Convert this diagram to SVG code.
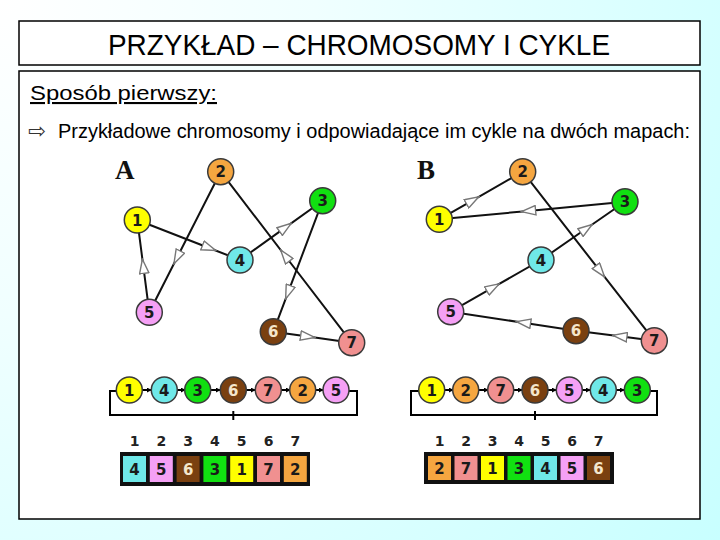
<svg xmlns="http://www.w3.org/2000/svg" width="720" height="540" viewBox="0 0 720 540">
<defs>
<radialGradient id="bg" cx="0" cy="0" r="900" gradientUnits="userSpaceOnUse">
<stop offset="0" stop-color="#ffffff"/>
<stop offset="0.35" stop-color="#f0ffff"/>
<stop offset="1" stop-color="#c8ffff"/>
</radialGradient>
<marker id="open" viewBox="0 0 16 11" refX="8" refY="5.5" markerWidth="16" markerHeight="11" markerUnits="userSpaceOnUse" orient="auto">
<path d="M0.8,0.8 L15,5.5 L0.8,10.2 Z" fill="#ffffff" stroke="#777777" stroke-width="1.4"/>
</marker>
<marker id="tiny" viewBox="0 0 6 6" refX="5" refY="3" markerWidth="5" markerHeight="5" markerUnits="userSpaceOnUse" orient="auto">
<path d="M0,0 L6,3 L0,6 Z" fill="#000"/>
</marker>
</defs>
<style>
.frame{fill:#ffffff;stroke:#000;stroke-width:1.5}
.edge{fill:none;stroke:#111;stroke-width:2;marker-mid:url(#open)}
.node circle{stroke:#3a3a3a;stroke-width:1.5}
.lbl{font-family:"DejaVu Sans",sans-serif;font-weight:bold;font-size:15px;fill:#1a1a1a;text-anchor:middle}
.lbl.w{fill:#f4e6cc}
.big{font-family:"Liberation Serif",serif;font-weight:bold;font-size:27px;fill:#111}
.num{font-family:"DejaVu Sans",sans-serif;font-weight:bold;font-size:14px;fill:#222;text-anchor:middle}
.c1{fill:#ffff00}.c2{fill:#f5a640}.c3{fill:#11e011}.c4{fill:#6fe8e8}.c5{fill:#f5a0f5}.c6{fill:#7a4010}.c7{fill:#f09090}
.link{stroke:#000;stroke-width:2;fill:none;marker-end:url(#tiny)}
.brk{stroke:#000;stroke-width:2;fill:none}
</style>
<rect x="0" y="0" width="720" height="540" fill="url(#bg)"/>
<rect class="frame" x="19" y="21" width="681" height="44"/>
<rect class="frame" x="19" y="71" width="681" height="448"/>
<text x="359" y="55" font-family="Liberation Sans, Arial, sans-serif" font-size="29" text-anchor="middle" textLength="502" lengthAdjust="spacingAndGlyphs" fill="#000">PRZYKŁAD – CHROMOSOMY I CYKLE</text>
<text x="30" y="100" font-family="Liberation Sans, Arial, sans-serif" font-size="21" textLength="187" lengthAdjust="spacingAndGlyphs" text-decoration="underline" fill="#000">Sposób pierwszy:</text>
<text x="28" y="138" font-family="DejaVu Sans, sans-serif" font-size="21" fill="#333">⇨</text>
<text x="58" y="138" font-family="Liberation Sans, Arial, sans-serif" font-size="20" textLength="632" lengthAdjust="spacingAndGlyphs" fill="#000">Przykładowe chromosomy i odpowiadające im cykle na dwóch mapach:</text>

<g id="mapA-connectors">
<path class="edge" d="M137.3,220 L209.2,248 L240,260"/>
<path class="edge" d="M240,260 L285.5,227.4 L322.7,200.7"/>
<path class="edge" d="M322.7,200.7 L288.1,292.4 L273.3,331.7"/>
<path class="edge" d="M273.3,331.7 L307.8,336.5 L351.7,342.7"/>
<path class="edge" d="M351.7,342.7 L284.9,255.5 L220.7,171.7"/>
<path class="edge" d="M220.7,171.7 L177.1,257.5 L149.3,312.3"/>
<path class="edge" d="M149.3,312.3 L143.3,266.2 L137.3,220"/>
</g>
<text class="big" x="115" y="179">A</text>
<g id="A1" class="node"><circle class="c1" cx="137.3" cy="220" r="13"/><text class="lbl" x="137.3" y="225.5">1</text></g>
<g id="A2" class="node"><circle class="c2" cx="220.7" cy="171.7" r="13"/><text class="lbl" x="220.7" y="177.2">2</text></g>
<g id="A3" class="node"><circle class="c3" cx="322.7" cy="200.7" r="13"/><text class="lbl" x="322.7" y="206.2">3</text></g>
<g id="A4" class="node"><circle class="c4" cx="240" cy="260" r="13"/><text class="lbl" x="240" y="265.5">4</text></g>
<g id="A5" class="node"><circle class="c5" cx="149.3" cy="312.3" r="13"/><text class="lbl" x="149.3" y="317.8">5</text></g>
<g id="A6" class="node"><circle class="c6" cx="273.3" cy="331.7" r="13"/><text class="lbl w" x="273.3" y="337.2">6</text></g>
<g id="A7" class="node"><circle class="c7" cx="351.7" cy="342.7" r="13"/><text class="lbl" x="351.7" y="348.2">7</text></g>

<g id="mapB-connectors">
<path class="edge" d="M439.3,219.3 L472.7,200.3 L522.7,171.7"/>
<path class="edge" d="M522.7,171.7 L600.3,271.4 L654.3,340.7"/>
<path class="edge" d="M654.3,340.7 L619.8,336.3 L576,330.7"/>
<path class="edge" d="M576,330.7 L523.4,322.7 L450.7,311.7"/>
<path class="edge" d="M450.7,311.7 L493.1,287.4 L541,260"/>
<path class="edge" d="M541,260 L586.4,228.5 L625,201.7"/>
<path class="edge" d="M625,201.7 L528.4,210.9 L439.3,219.3"/>
</g>
<text class="big" x="417" y="179">B</text>
<g id="B1" class="node"><circle class="c1" cx="439.3" cy="219.3" r="13"/><text class="lbl" x="439.3" y="224.8">1</text></g>
<g id="B2" class="node"><circle class="c2" cx="522.7" cy="171.7" r="13"/><text class="lbl" x="522.7" y="177.2">2</text></g>
<g id="B3" class="node"><circle class="c3" cx="625" cy="201.7" r="13"/><text class="lbl" x="625" y="207.2">3</text></g>
<g id="B4" class="node"><circle class="c4" cx="541" cy="260" r="13"/><text class="lbl" x="541" y="265.5">4</text></g>
<g id="B5" class="node"><circle class="c5" cx="450.7" cy="311.7" r="13"/><text class="lbl" x="450.7" y="317.2">5</text></g>
<g id="B6" class="node"><circle class="c6" cx="576" cy="330.7" r="13"/><text class="lbl w" x="576" y="336.2">6</text></g>
<g id="B7" class="node"><circle class="c7" cx="654.3" cy="340.7" r="13"/><text class="lbl" x="654.3" y="346.2">7</text></g>

<g id="chromA-connectors">
<path class="brk" d="M116,391 H110 V415 H357 V391 H349"/>
<path class="brk" d="M233.3,411 V420"/>
<path class="link" d="M142,390 H151"/>
<path class="link" d="M177,390 H185"/>
<path class="link" d="M210,390 H220"/>
<path class="link" d="M246,390 H255"/>
<path class="link" d="M281,390 H290"/>
<path class="link" d="M315,390 H323"/>
</g>
<g id="chromA">
<g class="node"><circle class="c1" cx="129.3" cy="390" r="13"/><text class="lbl" x="129.3" y="395.5">1</text></g>
<g class="node"><circle class="c4" cx="164.3" cy="390" r="13"/><text class="lbl" x="164.3" y="395.5">4</text></g>
<g class="node"><circle class="c3" cx="197.7" cy="390" r="13"/><text class="lbl" x="197.7" y="395.5">3</text></g>
<g class="node"><circle class="c6" cx="233.3" cy="390" r="13"/><text class="lbl w" x="233.3" y="395.5">6</text></g>
<g class="node"><circle class="c7" cx="268.3" cy="390" r="13"/><text class="lbl" x="268.3" y="395.5">7</text></g>
<g class="node"><circle class="c2" cx="302.7" cy="390" r="13"/><text class="lbl" x="302.7" y="395.5">2</text></g>
<g class="node"><circle class="c5" cx="336" cy="390" r="13"/><text class="lbl" x="336" y="395.5">5</text></g>
</g>
<g id="tableA">
<text class="num" x="134.5" y="446">1</text><text class="num" x="161.3" y="446">2</text><text class="num" x="188.1" y="446">3</text><text class="num" x="214.9" y="446">4</text><text class="num" x="241.7" y="446">5</text><text class="num" x="268.5" y="446">6</text><text class="num" x="295.3" y="446">7</text>
<rect x="120" y="452" width="190" height="34" fill="#111"/>
<rect class="c4" x="123" y="456" width="23" height="26"/><text class="lbl" x="134.5" y="474.5">4</text>
<rect class="c5" x="149.8" y="456" width="23" height="26"/><text class="lbl" x="161.3" y="474.5">5</text>
<rect class="c6" x="176.6" y="456" width="23" height="26"/><text class="lbl w" x="188.1" y="474.5">6</text>
<rect class="c3" x="203.4" y="456" width="23" height="26"/><text class="lbl" x="214.9" y="474.5">3</text>
<rect class="c1" x="230.2" y="456" width="23" height="26"/><text class="lbl" x="241.7" y="474.5">1</text>
<rect class="c7" x="257" y="456" width="23" height="26"/><text class="lbl" x="268.5" y="474.5">7</text>
<rect class="c2" x="283.8" y="456" width="23" height="26"/><text class="lbl" x="295.3" y="474.5">2</text>
</g>

<g id="chromB-connectors">
<path class="brk" d="M419,391 H411 V415 H657 V391 H650"/>
<path class="brk" d="M535,411 V420"/>
<path class="link" d="M444,390 H453"/>
<path class="link" d="M478,390 H488"/>
<path class="link" d="M513,390 H522"/>
<path class="link" d="M547,390 H556"/>
<path class="link" d="M582,390 H590"/>
<path class="link" d="M616,390 H624"/>
</g>
<g id="chromB">
<g class="node"><circle class="c1" cx="431.7" cy="390" r="13"/><text class="lbl" x="431.7" y="395.5">1</text></g>
<g class="node"><circle class="c2" cx="465.7" cy="390" r="13"/><text class="lbl" x="465.7" y="395.5">2</text></g>
<g class="node"><circle class="c7" cx="500.7" cy="390" r="13"/><text class="lbl" x="500.7" y="395.5">7</text></g>
<g class="node"><circle class="c6" cx="535" cy="390" r="13"/><text class="lbl w" x="535" y="395.5">6</text></g>
<g class="node"><circle class="c5" cx="569.3" cy="390" r="13"/><text class="lbl" x="569.3" y="395.5">5</text></g>
<g class="node"><circle class="c4" cx="603.3" cy="390" r="13"/><text class="lbl" x="603.3" y="395.5">4</text></g>
<g class="node"><circle class="c3" cx="637.3" cy="390" r="13"/><text class="lbl" x="637.3" y="395.5">3</text></g>
</g>
<g id="tableB">
<text class="num" x="439.5" y="446">1</text><text class="num" x="466" y="446">2</text><text class="num" x="492.5" y="446">3</text><text class="num" x="519" y="446">4</text><text class="num" x="545.5" y="446">5</text><text class="num" x="572" y="446">6</text><text class="num" x="598.5" y="446">7</text>
<rect x="424" y="452" width="190" height="32" fill="#111"/>
<rect class="c2" x="428" y="456" width="23" height="24"/><text class="lbl" x="439.5" y="473.5">2</text>
<rect class="c7" x="454.5" y="456" width="23" height="24"/><text class="lbl" x="466" y="473.5">7</text>
<rect class="c1" x="481" y="456" width="23" height="24"/><text class="lbl" x="492.5" y="473.5">1</text>
<rect class="c3" x="507.5" y="456" width="23" height="24"/><text class="lbl" x="519" y="473.5">3</text>
<rect class="c4" x="534" y="456" width="23" height="24"/><text class="lbl" x="545.5" y="473.5">4</text>
<rect class="c5" x="560.5" y="456" width="23" height="24"/><text class="lbl" x="572" y="473.5">5</text>
<rect class="c6" x="587" y="456" width="23" height="24"/><text class="lbl w" x="598.5" y="473.5">6</text>
</g>
</svg>
